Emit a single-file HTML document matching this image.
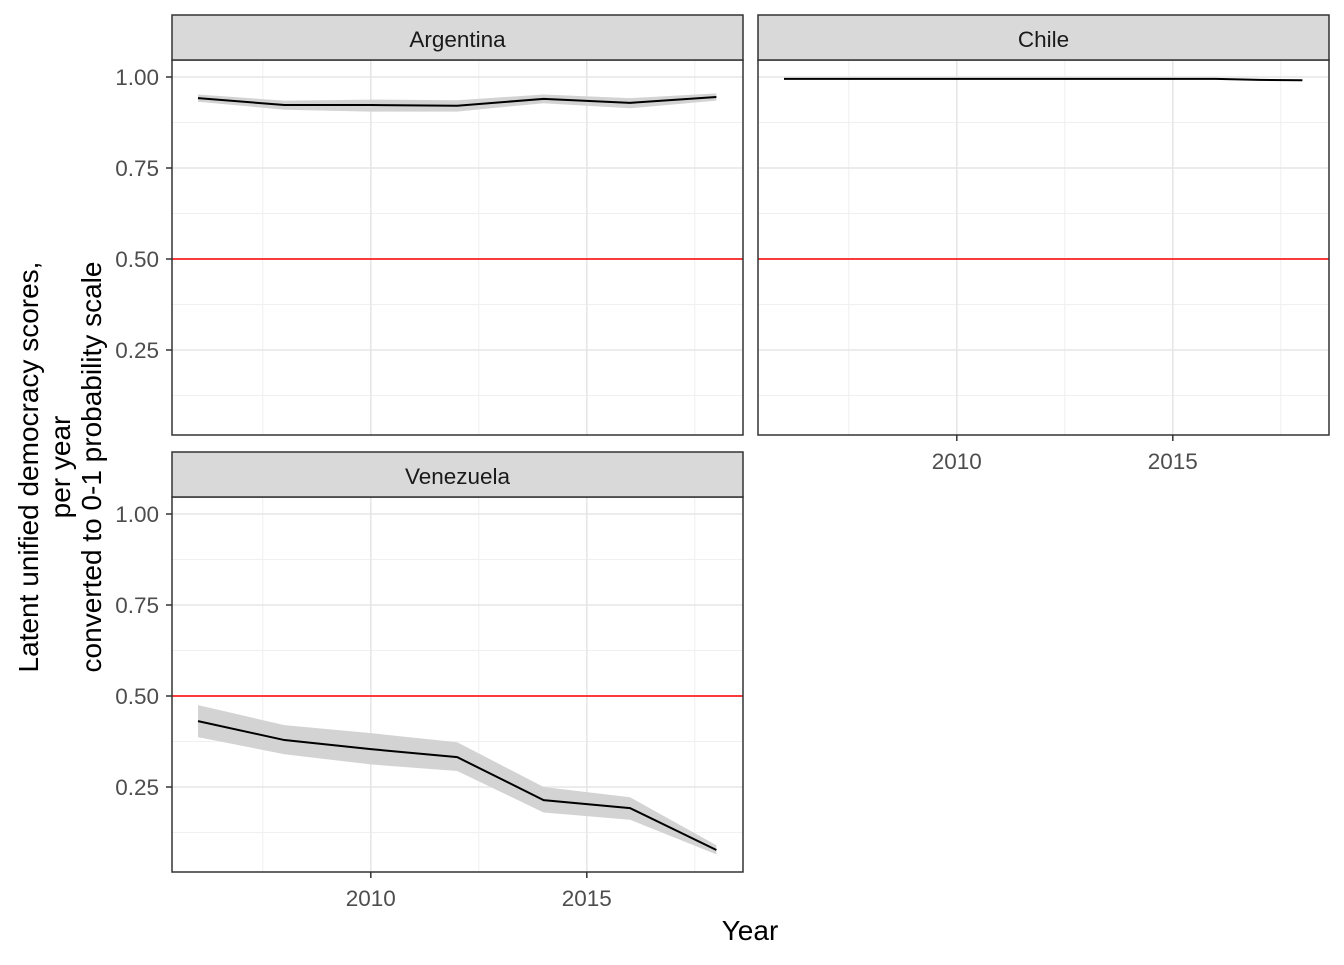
<!DOCTYPE html>
<html><head><meta charset="utf-8"><style>
body{margin:0;background:#fff;font-family:"Liberation Sans",sans-serif}
svg text{font-family:"Liberation Sans",sans-serif}
</style></head><body>
<svg id="c" width="1344" height="960" xmlns="http://www.w3.org/2000/svg"></svg>
<script>
const years=[2006,2008,2010,2012,2014,2016,2018];
const argMean=[0.942,0.923,0.923,0.921,0.940,0.929,0.945];
const argLo=[0.932,0.910,0.905,0.905,0.928,0.914,0.935];
const argHi=[0.952,0.935,0.938,0.936,0.952,0.942,0.955];
const chlYears=[2006,2008,2010,2012,2014,2016,2017,2018];
const chlMean=[0.995,0.995,0.995,0.995,0.995,0.995,0.992,0.991];
const venMean=[0.431,0.379,0.354,0.332,0.214,0.192,0.077];
const venLo=[0.387,0.340,0.312,0.294,0.180,0.160,0.065];
const venHi=[0.475,0.420,0.398,0.373,0.250,0.222,0.090];
const yTicks=[0.25,0.5,0.75,1.0];
const yTickLabels=["0.25","0.50","0.75","1.00"];
const yMinor=[0.125,0.375,0.625,0.875];
const xTicks=[2010,2015];
const xMinor=[2007.5,2012.5,2017.5];
const threshold=0.5;

const svg=document.getElementById('c');
const NS='http://www.w3.org/2000/svg';
function el(t,a,p){const e=document.createElementNS(NS,t);for(const k in a)e.setAttribute(k,a[k]);(p||svg).appendChild(e);return e;}
const PW=571,PH=375;
function xs(ox){return v=>ox+26+(v-2006)*43.2;}
function ys(oy){return v=>oy+17+(1-v)*364;}
function panel(name,ox,oy,showX,showY,xsData,mean,lo,hi){
  const g=el('g',{});
  
  
  const X=xs(ox),Y=ys(oy);
  el('rect',{x:ox,y:oy,width:PW,height:PH,fill:'#fff'},g);
  xMinor.forEach(v=>el('line',{x1:X(v),x2:X(v),y1:oy,y2:oy+PH,stroke:'#f0f0f0','stroke-width':1},g));
  yMinor.forEach(v=>el('line',{x1:ox,x2:ox+PW,y1:Y(v),y2:Y(v),stroke:'#f0f0f0','stroke-width':1},g));
  xTicks.forEach(v=>el('line',{x1:X(v),x2:X(v),y1:oy,y2:oy+PH,stroke:'#e5e5e5','stroke-width':1.5},g));
  yTicks.forEach(v=>el('line',{x1:ox,x2:ox+PW,y1:Y(v),y2:Y(v),stroke:'#e5e5e5','stroke-width':1.5},g));
  if(lo){
    let d='M'+xsData.map((v,i)=>X(v)+','+Y(hi[i])).join('L')+'L'+xsData.map((v,i)=>X(v)+','+Y(lo[i])).reverse().join('L')+'Z';
    const r=el('path',{d:d,fill:'#d3d3d3'},g);
    
    
  }
  const ln=el('polyline',{points:xsData.map((v,i)=>X(v)+','+Y(mean[i])).join(' '),fill:'none',stroke:'#000','stroke-width':2},g);
  
  
  const th=el('line',{x1:ox,x2:ox+PW,y1:Y(threshold),y2:Y(threshold),stroke:'#ff0000','stroke-width':1.5},g);
  
  
  el('rect',{x:ox,y:oy,width:PW,height:PH,fill:'none',stroke:'#333','stroke-width':1.5},g);
  const s=el('rect',{x:ox,y:oy-45,width:PW,height:45,fill:'#d9d9d9',stroke:'#333','stroke-width':1.5},g);
  
  
  const st=el('text',{x:ox+PW/2,y:oy-13,'text-anchor':'middle','font-size':22.5,fill:'#1a1a1a'},g);
  st.textContent=name;
  
  
  if(showY){yTicks.forEach((v,i)=>{
    el('line',{x1:ox-6,x2:ox,y1:Y(v),y2:Y(v),stroke:'#333','stroke-width':1.5},g);
    const t=el('text',{x:ox-13,y:Y(v)+8,'text-anchor':'end','font-size':22.5,fill:'#4d4d4d'},g);
    t.textContent=yTickLabels[i];
    
    
  });}
  if(showX){xTicks.forEach(v=>{
    el('line',{x1:X(v),x2:X(v),y1:oy+PH,y2:oy+PH+6,stroke:'#333','stroke-width':1.5},g);
    const t=el('text',{x:X(v),y:oy+PH+34,'text-anchor':'middle','font-size':22.5,fill:'#4d4d4d'},g);
    t.textContent=String(v);
    
    
  });}
}
panel('Argentina',172,60,false,true,years,argMean,argLo,argHi);
panel('Chile',758,60,true,false,chlYears,chlMean,null,null);
panel('Venezuela',172,497,true,true,years,venMean,venLo,venHi);
const xt=el('text',{x:750,y:940,'text-anchor':'middle','font-size':28,fill:'#000'});
xt.textContent='Year';


const yt=el('text',{transform:'translate(0,467) rotate(-90)','text-anchor':'middle','font-size':28,fill:'#000'});


[['Latent unified democracy scores,',38],['per year',70],['converted to 0-1 probability scale',101]].forEach(([s,x])=>{
  const ts=el('tspan',{x:0,y:x},yt);ts.textContent=s;
});
</script>
</body></html>
